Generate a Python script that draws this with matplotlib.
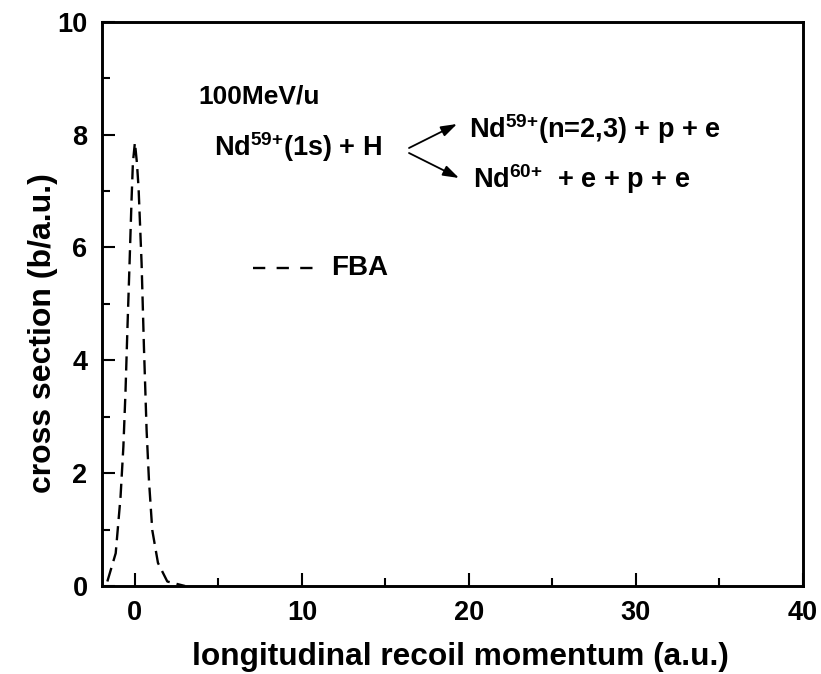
import matplotlib
matplotlib.use("Agg")
import matplotlib.pyplot as plt

plt.rcParams['font.family'] = ['Liberation Sans', 'DejaVu Sans']
plt.rcParams['font.weight'] = 'bold'
plt.rcParams['mathtext.default'] = 'regular'

# FBA curve
momentum = [-1.65, -1.15, -0.86, -0.69, -0.56, -0.45, -0.32, -0.2, -0.12, 0.0,
            0.12, 0.22, 0.40, 0.54, 0.70, 0.84, 1.04, 1.38, 1.94, 2.73, 3.0]
cross_section = [0.08, 0.58, 1.58, 2.47, 3.47, 4.54, 5.72, 6.85, 7.5, 7.86,
                 7.5, 7.05, 5.72, 4.24, 2.76, 1.88, 0.99, 0.41, 0.08, 0.02, 0.0]

x_ticks = [0, 10, 20, 30, 40]
y_ticks = [0, 2, 4, 6, 8, 10]

W, H = 821, 674
fig = plt.figure(figsize=(W / 100, H / 100), dpi=100)
ax = fig.add_axes([101.5 / W, 1 - 586 / H, (803 - 101.5) / W, (586 - 21.7) / H])

ax.plot(momentum, cross_section, color='black', lw=1.7, dashes=(6, 3))

ax.set_xlim(-2, 40)
ax.set_ylim(0, 10)
ax.set_xticks(x_ticks)
ax.set_yticks(y_ticks)
ax.set_xticks([5, 15, 25, 35], minor=True)
ax.set_yticks([1, 3, 5, 7, 9], minor=True)
ax.tick_params(which='both', direction='in', width=1.5, labelsize=19.5, top=False, right=False)
ax.tick_params(which='major', length=9.5, pad=10)
ax.tick_params(which='minor', length=5.8)
for lab in ax.get_xticklabels() + ax.get_yticklabels():
    lab.set_fontweight('bold')
for s in ax.spines.values():
    s.set_linewidth(2.1)

ax.set_xlabel('longitudinal recoil momentum (a.u.)', fontsize=22.8, fontweight='bold')
ax.set_ylabel('cross section (b/a.u.)', fontsize=23, fontweight='bold')
ax.xaxis.set_label_coords(0.511, -0.099)
ax.yaxis.set_label_coords(-0.062, 0.448)

def fx(px):
    return px / W
def fy(py):
    return 1 - py / H

fig.text(fx(198), fy(97), '100MeV/u', fontsize=19, fontweight='bold', va='center', ha='left')
fig.text(fx(214), fy(147), 'Nd$^{59{+}}$(1s) + H', fontsize=19.5, fontweight='bold', va='center', ha='left')
fig.text(fx(469), fy(129), 'Nd$^{59{+}}$(n=2,3) + p + e', fontsize=19.5, fontweight='bold', va='center', ha='left')
fig.text(fx(473), fy(179), 'Nd$^{60{+}}$  + e + p + e', fontsize=19.5, fontweight='bold', va='center', ha='left')

arrow_kw = dict(arrowstyle='-|>,head_length=0.6,head_width=0.2', color='black', lw=1.3,
                mutation_scale=16, shrinkA=0, shrinkB=0)
ax.annotate('', xy=(fx(457), fy(124)), xytext=(fx(409), fy(148)),
            xycoords='figure fraction', textcoords='figure fraction', arrowprops=arrow_kw)
ax.annotate('', xy=(fx(459), fy(178)), xytext=(fx(409), fy(153)),
            xycoords='figure fraction', textcoords='figure fraction', arrowprops=arrow_kw)

# legend drawn manually
ax.plot([fx(253), fx(313)], [fy(268), fy(268)], transform=fig.transFigure,
        color='black', lw=1.7, dashes=(5.2, 4.8))
fig.text(fx(331), fy(268), 'FBA', fontsize=20, fontweight='bold', va='center', ha='left')

fig.savefig('out.png', dpi=100)
